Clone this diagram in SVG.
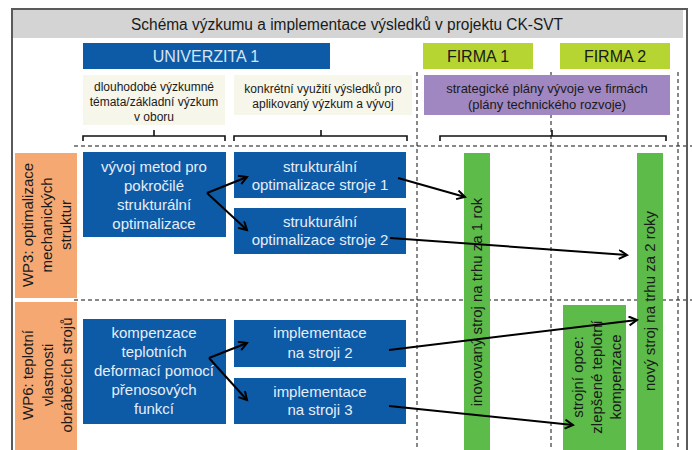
<svg xmlns="http://www.w3.org/2000/svg" width="692" height="450" viewBox="0 0 692 450">
<defs>
<style>
text{font-family:"Liberation Sans","Arial",sans-serif;}
.blue{fill:#0D5AA7;}
.bt{fill:#E6EEF7;font-size:15px;text-anchor:middle;}
.beige{fill:#F7F6EA;}
.small{fill:#1a1a1a;font-size:12px;text-anchor:middle;}
.firm{fill:#B6D432;}
.gbar{fill:#5CBB49;}
.orange{fill:#F6A872;}
.dt{fill:#1a1a1a;font-size:15px;text-anchor:middle;}
.dash{stroke:#111;stroke-width:1;stroke-dasharray:4,3;fill:none;}
.br{stroke:#111;stroke-width:1.6;fill:none;}
.arr{stroke:#000;stroke-width:2;fill:none;marker-end:url(#ah);}
</style>
<marker id="ah" markerUnits="userSpaceOnUse" markerWidth="12" markerHeight="12" refX="9" refY="5" orient="auto">
<path d="M1,0.5 L9,5 L1,9.5" fill="none" stroke="#000" stroke-width="2"/>
</marker>
</defs>
<rect width="692" height="450" fill="#fff"/>
<g id="grid">
<path class="dash" d="M74,146 H692 M74,300 H692 M417,72 V450 M551,72 V450 M678,72 V450"/>
</g>
<path d="M12,450 V9 H687 V450" fill="none" stroke="#5a5a5a" stroke-width="2"/>
<g id="title">
<rect x="13" y="10" width="670" height="28" fill="#D3D4D3"/>
<text x="347" y="30" font-size="16" text-anchor="middle" fill="#1a1a1a" textLength="432" lengthAdjust="spacingAndGlyphs">Schéma výzkumu a implementace výsledků v projektu CK-SVT</text>
</g>
<g id="univerzita">
<rect x="83" y="43" width="247" height="26" class="blue"/>
<text x="206" y="62" font-size="16" text-anchor="middle" fill="#D8E4F2">UNIVERZITA 1</text>
</g>
<g id="firma1">
<rect x="423" y="43" width="110" height="26" class="firm"/>
<text x="478" y="62" font-size="16" text-anchor="middle" fill="#1a1a1a">FIRMA 1</text>
</g>
<g id="firma2">
<rect x="560" y="43" width="110" height="26" class="firm"/>
<text x="615" y="62" font-size="16" text-anchor="middle" fill="#1a1a1a">FIRMA 2</text>
</g>
<g id="dlouhodobe">
<rect x="83" y="75" width="142" height="50" class="beige"/>
<text class="small" x="154" y="91">dlouhodobé výzkumné</text>
<text class="small" x="154" y="106">témata/základní výzkum</text>
<text class="small" x="154" y="121">v oboru</text>
</g>
<g id="konkretni">
<rect x="234" y="75" width="178" height="40" class="beige"/>
<text class="small" x="323" y="93">konkrétní využití výsledků pro</text>
<text class="small" x="323" y="108">aplikovaný výzkum a vývoj</text>
</g>
<g id="strategicke">
<rect x="424" y="75" width="246" height="40" fill="#A087C1"/>
<text x="547" y="93" font-size="13" text-anchor="middle" fill="#1a1a1a">strategické plány vývoje ve firmách</text>
<text x="547" y="109" font-size="13" text-anchor="middle" fill="#1a1a1a">(plány technického rozvoje)</text>
</g>
<g id="brackets">
<path class="br" d="M83,141 V136 H225 V141 M154,136 V130"/>
<path class="br" d="M234,141 V136 H407 V141 M321,136 V130"/>
<path class="br" d="M440,141 V136 H666 V141 M552,136 V130"/>
</g>
<g id="wp3">
<rect x="15" y="153" width="62" height="145" class="orange"/>
<g transform="translate(0,225) rotate(-90)">
<text class="dt" font-size="16" x="0" y="33">WP3: optimalizace</text>
<text class="dt" font-size="16" x="0" y="52">mechanických</text>
<text class="dt" font-size="16" x="0" y="71">struktur</text>
</g>
</g>
<g id="wp6">
<rect x="15" y="302" width="62" height="148" class="orange"/>
<g transform="translate(0,375) rotate(-90)">
<text class="dt" font-size="16" x="0" y="33">WP6: teplotní</text>
<text class="dt" font-size="16" x="0" y="53">vlastnosti</text>
<text class="dt" font-size="16" x="0" y="72">obráběcích strojů</text>
</g>
</g>
<g id="vyvoj">
<rect x="83" y="152" width="143" height="85" class="blue"/>
<text class="bt" x="154" y="172">vývoj metod pro</text>
<text class="bt" x="154" y="191">pokročilé</text>
<text class="bt" x="154" y="210">strukturální</text>
<text class="bt" x="154" y="229">optimalizace</text>
</g>
<g id="stroje1">
<rect x="234" y="152" width="172" height="46" class="blue"/>
<text class="bt" x="320" y="172">strukturální</text>
<text class="bt" x="320" y="190">optimalizace stroje 1</text>
</g>
<g id="stroje2">
<rect x="234" y="208" width="172" height="46" class="blue"/>
<text class="bt" x="320" y="227">strukturální</text>
<text class="bt" x="320" y="245">optimalizace stroje 2</text>
</g>
<g id="kompenzace">
<rect x="83" y="319" width="143" height="105" class="blue"/>
<text class="bt" x="154" y="338">kompenzace</text>
<text class="bt" x="154" y="357">teplotních</text>
<text class="bt" x="154" y="376">deformací pomocí</text>
<text class="bt" x="154" y="395">přenosových</text>
<text class="bt" x="154" y="414">funkcí</text>
</g>
<g id="stroji2">
<rect x="234" y="320" width="172" height="47" class="blue"/>
<text class="bt" x="320" y="338">implementace</text>
<text class="bt" x="320" y="358">na stroji 2</text>
</g>
<g id="stroji3">
<rect x="234" y="378" width="172" height="46" class="blue"/>
<text class="bt" x="320" y="397">implementace</text>
<text class="bt" x="320" y="415">na stroji 3</text>
</g>
<g id="inovovany">
<rect x="464" y="153" width="26" height="297" class="gbar"/>
<g transform="translate(0,302) rotate(-90)">
<text class="dt" x="0" y="482">inovovaný stroj na trhu za 1 rok</text>
</g>
</g>
<g id="opce">
<rect x="563" y="305" width="63" height="145" class="gbar"/>
<g transform="translate(0,377) rotate(-90)">
<text class="dt" x="0" y="583">strojní opce:</text>
<text class="dt" x="0" y="602">zlepšené teplotní</text>
<text class="dt" x="0" y="621">kompenzace</text>
</g>
</g>
<g id="novy">
<rect x="637" y="153" width="26" height="297" class="gbar"/>
<g transform="translate(0,301) rotate(-90)">
<text class="dt" x="0" y="655">nový stroj na trhu za 2 roky</text>
</g>
</g>
<g id="connectors">
<path class="arr" d="M207,193 L247,177"/>
<path class="arr" d="M207,193 L247,230"/>
<path class="arr" d="M209,358 L247,343"/>
<path class="arr" d="M209,358 L247,400"/>
<path class="arr" d="M398,178 L465,197"/>
<path class="arr" d="M390,238 L627,255"/>
<path class="arr" d="M389,350 L637,320"/>
<path class="arr" d="M389,406 L573,425"/>
</g>
</svg>
